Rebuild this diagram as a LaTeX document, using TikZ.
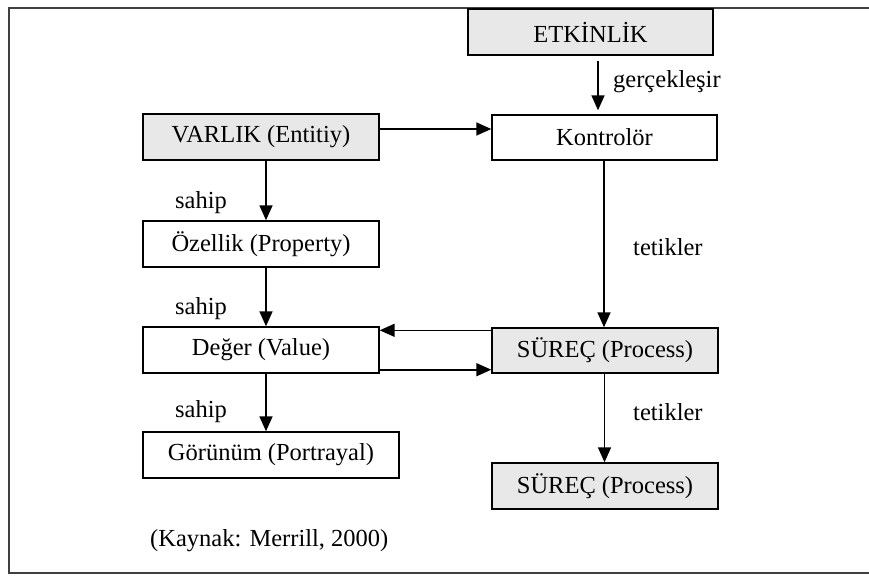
\documentclass[tikz,border=0pt]{standalone}
\usepackage{fontspec}
\setmainfont{Liberation Serif}
\usetikzlibrary{arrows.meta}

\tikzset{
  box/.style={draw, line width=1.4pt, minimum height=46pt, inner sep=0pt,
    font=\fontsize{24.5}{28}\selectfont},
  greybox/.style={box, fill=black!9},
  lbl/.style={font=\fontsize{24.5}{28}\selectfont, anchor=west, inner sep=0pt},
  arr/.style={-{Triangle[length=15pt,width=13pt]}, line width=1.6pt},
}

\begin{document}
\begin{tikzpicture}[x=1pt,y=-1pt]
        \useasboundingbox (0,0) rectangle (869,575);
        \clip (0,0) rectangle (869,575);
        \draw[line width=2pt, black!75] (9,8) rectangle (900,573);

        \node[greybox, minimum width=245pt] (etkinlik) at (590.5,32) {ETK\.{I}NL\.{I}K};
        \node[box, minimum width=225pt, minimum height=45pt] (kontrolor) at (604.5,137.5) {Kontrolör};
        \node[greybox, minimum width=236pt] (varlik) at (261,137) {VARLIK (Entitiy)};
        \node[box, minimum width=236pt] (ozellik) at (261,244) {Özellik (Property)};
        \node[box, minimum width=236pt] (deger) at (261,350) {Değer (Value)};
        \node[box, minimum width=256pt] (gorunum) at (271,455) {Görünüm (Portrayal)};
        \node[greybox, minimum width=226pt, minimum height=45pt] (surec) at (605,350.5) {SÜREÇ (Process)};
        \node[greybox, minimum width=226pt] (surecb) at (605,486) {SÜREÇ (Process)};

        \draw[arr, shorten <=5pt, shorten >=4pt] ([xshift=7.5pt]etkinlik.south)
          -- ([xshift=7.5pt]etkinlik.south |- kontrolor.north);
        \draw[arr] ([yshift=8pt]varlik.east) -- ([yshift=8pt]varlik.east -| kontrolor.west);
        \draw[arr] ([xshift=5pt]varlik.south) -- ([xshift=5pt]varlik.south |- ozellik.north);
        \draw[arr] ([xshift=5pt]ozellik.south) -- ([xshift=5pt]ozellik.south |- deger.north);
        \draw[arr] ([xshift=5pt]deger.south) -- ([xshift=5pt]deger.south |- gorunum.north);
        \draw[arr] ([xshift=-0.5pt]kontrolor.south) -- ([xshift=-0.5pt]kontrolor.south |- surec.north);
        \draw[arr] ([yshift=-3pt]surec.north west) -- ([yshift=-3pt]surec.north west -| deger.east);
        \draw[arr] ([yshift=4pt]deger.south east) -- ([yshift=4pt]deger.south east -| surec.west);
        \draw[arr] ([xshift=-0.5pt]surec.south) -- ([xshift=-0.5pt]surecb.north);

        \node[lbl] (lgercek) at (613,82) {gerçekleşir};
        \node[lbl] (lsahipa) at (175,203) {sahip};
        \node[lbl] (lsahipb) at (175,309) {sahip};
        \node[lbl] (lsahipc) at (175,412) {sahip};
        \node[lbl] (ltetika) at (633,247) {tetikler};
        \node[lbl] (ltetikb) at (633,412) {tetikler};
        \node[lbl] (kaynak) at (150,541) {(Kaynak: Merrill, 2000)};
    \end{tikzpicture}
\end{document}
